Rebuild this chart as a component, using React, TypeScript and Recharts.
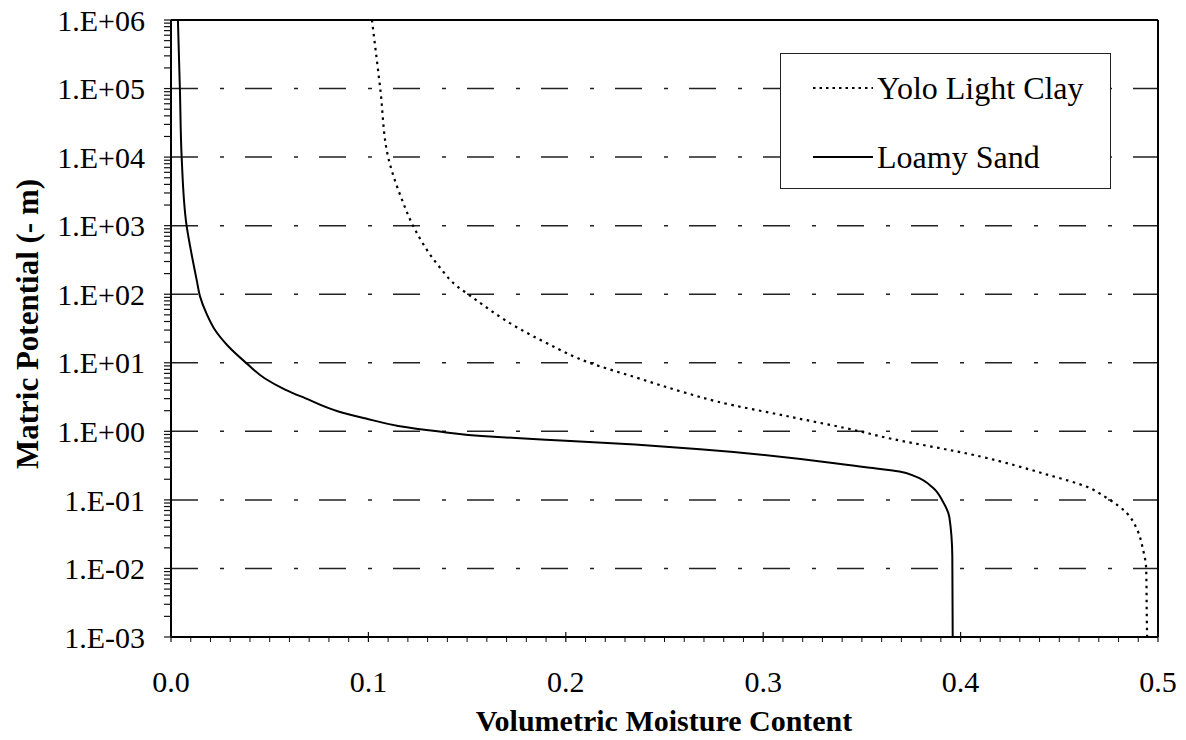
import { LineChart, Line, XAxis, YAxis, ReferenceLine, Legend, Label } from 'recharts';

// Yolo Light Clay (dotted) - moisture content vs matric potential
const clayTheta = [0.1018, 0.106, 0.11, 0.117, 0.1226, 0.136, 0.145, 0.1505, 0.176, 0.191, 0.212, 0.234, 0.2612, 0.2764, 0.3136, 0.349, 0.359, 0.41, 0.4438, 0.464, 0.474, 0.484, 0.4894, 0.4924, 0.494, 0.4944, 0.4945];
const clayPsi = [1e6, 1e5, 1e4, 2400, 1000, 250, 130, 100, 32, 18.9, 10, 6.3, 3.61, 2.73, 1.63, 1.0, 0.85, 0.43, 0.234, 0.155, 0.107, 0.065, 0.037, 0.019, 0.01, 0.0014, 0.001];

// Loamy Sand (solid)
const sandTheta = [0.0035, 0.0045, 0.0054, 0.0079, 0.01, 0.013, 0.0147, 0.018, 0.0223, 0.029, 0.0383, 0.0476, 0.0578, 0.0679, 0.0848, 0.0983, 0.1151, 0.135, 0.1574, 0.1768, 0.2, 0.235, 0.268, 0.352, 0.369, 0.377, 0.386, 0.391, 0.3943, 0.3958, 0.396];
const sandPsi = [1e6, 1e5, 1e4, 1000, 447, 162, 93, 52, 30, 17.4, 9.8, 5.9, 4.07, 3.05, 1.95, 1.55, 1.2, 1.0, 0.855, 0.79, 0.73, 0.64, 0.55, 0.3, 0.26, 0.22, 0.15, 0.095, 0.056, 0.015, 0.001];

const xMajorTicks = [0, 0.1, 0.2, 0.3, 0.4, 0.5];
const xTickLabels = ['0.0', '0.1', '0.2', '0.3', '0.4', '0.5'];
const yMajorTicks = [1e-3, 1e-2, 1e-1, 1, 10, 100, 1e3, 1e4, 1e5, 1e6];
const yTickLabels = ['1.E-03', '1.E-02', '1.E-01', '1.E+00', '1.E+01', '1.E+02', '1.E+03', '1.E+04', '1.E+05', '1.E+06'];
const gridLevels = [1e-2, 1e-1, 1, 10, 100, 1e3, 1e4, 1e5];

const clayData = clayTheta.map((v, i) => ({ v, h: clayPsi[i] }));
const sandData = sandTheta.map((v, i) => ({ v, h: sandPsi[i] }));

// minor ticks: 2..9 within each decade, 0.01 steps on x
const yAllTicks: number[] = [];
yMajorTicks.forEach((m, i) => {
 yAllTicks.push(m);
 if (i < yMajorTicks.length - 1) for (let k = 2; k <= 9; k++) yAllTicks.push(+(m * k).toPrecision(3));
});
const xAllTicks: number[] = [];
for (let i = 0; i <= 50; i++) xAllTicks.push(i / 100);

const FONT = '"Liberation Serif", "Times New Roman", serif';

function yLabel(val: number) {
 const idx = yMajorTicks.findIndex((m) => Math.abs(Math.log10(m) - Math.log10(val)) < 1e-6);
 return idx >= 0 ? yTickLabels[idx] : '';
}

function XTick(props: any) {
 const { x, y, payload } = props;
 const idx = xMajorTicks.findIndex((m) => Math.abs(m - payload.value) < 1e-9);
 if (idx >= 0) {
  return (
   <g>
    <line x1={x} x2={x} y1={y - 5} y2={y + 5} stroke="#111" strokeWidth={1.2} />
    <text x={x} y={y + 55} textAnchor="middle" fontFamily={FONT} fontSize={30} fill="#000">
     {xTickLabels[idx]}
    </text>
   </g>
  );
 }
 return <line x1={x} x2={x} y1={y + 1} y2={y + 5} stroke="#111" strokeWidth={1} />;
}

function LegendBox() {
 return (
  <div style={{ width: 331, height: 136, border: '1.5px solid #222', boxSizing: 'border-box', background: '#fff' }}>
   <svg width={328} height={133}>
    <line x1={32} x2={92} y1={34} y2={34} stroke="#000" strokeWidth={2.2} strokeDasharray="2.5 4" />
    <text x={96} y={34} dominantBaseline="central" fontFamily={FONT} fontSize={32} fill="#000">Yolo Light Clay</text>
    <line x1={32} x2={92} y1={103} y2={103} stroke="#000" strokeWidth={2} />
    <text x={96} y={103} dominantBaseline="central" fontFamily={FONT} fontSize={32} fill="#000">Loamy Sand</text>
   </svg>
  </div>
 );
}

export default function App() {
 return (
  <div style={{ position: 'absolute', left: 0, top: 0, background: '#fff' }}>
   <LineChart width={1186} height={740} margin={{ top: 20, right: 28, bottom: 0, left: 0 }}>
    <XAxis
     type="number"
     dataKey="v"
     domain={[0, 0.5]}
     ticks={xAllTicks}
     interval={0}
     height={103}
     tickLine={false}
     tickSize={0}
     tickMargin={0}
     tick={<XTick />}
     axisLine={{ stroke: '#000', strokeWidth: 2 }}
     allowDataOverflow
    >
     <Label
      content={() => (
       <text x={664} y={731} textAnchor="middle" fontFamily={FONT} fontWeight="bold" fontSize={30} fill="#000">
        Volumetric Moisture Content
       </text>
      )}
     />
    </XAxis>
    <YAxis
     type="number"
     dataKey="h"
     scale="log"
     domain={[0.001, 1000000]}
     ticks={yAllTicks}
     interval={0}
     width={171}
     tickSize={7}
     tickMargin={19}
     tickFormatter={yLabel}
     tick={{ fontFamily: FONT, fontSize: 30, fill: '#000' }}
     tickLine={{ stroke: '#111', strokeWidth: 1.2 }}
     axisLine={{ stroke: '#000', strokeWidth: 2 }}
     allowDataOverflow
    >
     <Label
      content={() => (
       <text
        x={38}
        y={324}
        transform="rotate(-90 38 324)"
        textAnchor="middle"
        fontFamily={FONT}
        fontWeight="bold"
        fontSize={31}
        fill="#000"
       >
        Matric Potential (- m)
       </text>
      )}
     />
    </YAxis>
    {gridLevels.map((g) => (
     <ReferenceLine key={g} y={g} stroke="#222" strokeWidth={1.5} strokeDasharray="27 22 4 21" />
    ))}
    <ReferenceLine y={1000000} stroke="#000" strokeWidth={2} />
    <ReferenceLine x={0.5} stroke="#000" strokeWidth={2} />
    <Legend
     layout="vertical"
     align="center"
     verticalAlign="middle"
     wrapperStyle={{ left: 780, top: 53, width: 331, height: 136 }}
     content={() => <LegendBox />}
    />
    <Line
     data={clayData}
     dataKey="h"
     type="monotoneY"
     stroke="#000"
     strokeWidth={2.2}
     strokeDasharray="2.5 4.5"
     dot={false}
     isAnimationActive={false}
    />
    <Line
     data={sandData}
     dataKey="h"
     type="monotoneY"
     stroke="#000"
     strokeWidth={2}
     dot={false}
     isAnimationActive={false}
    />
   </LineChart>
  </div>
 );
}
